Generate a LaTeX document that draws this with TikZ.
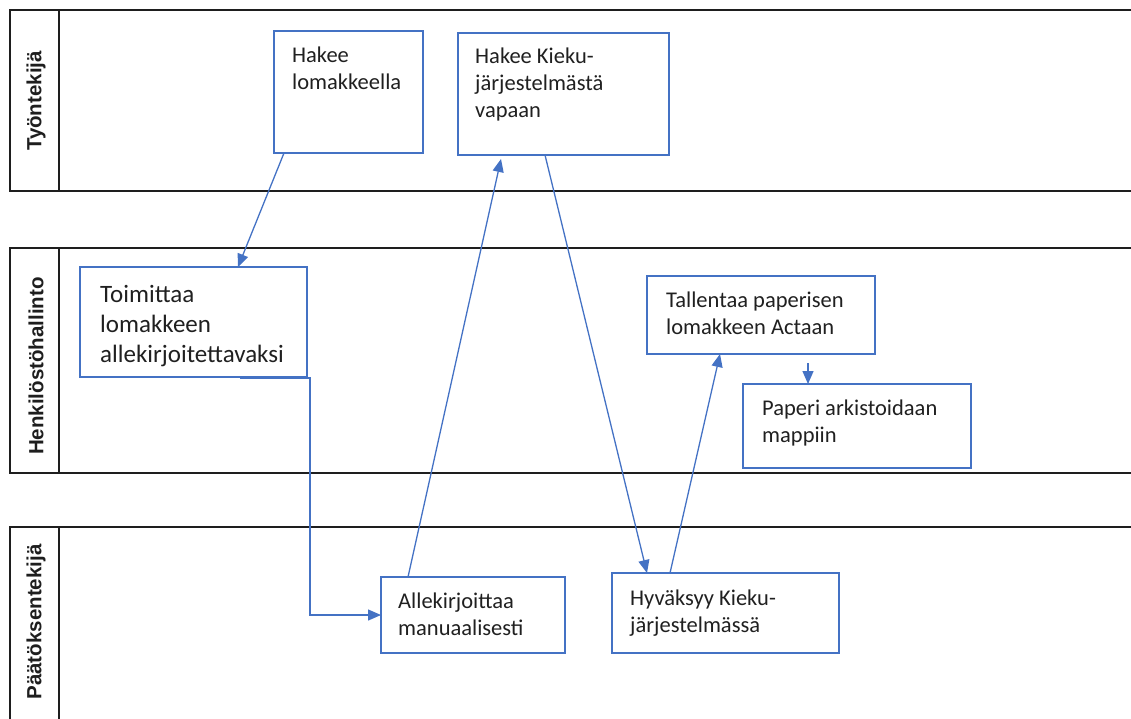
\documentclass[tikz,border=0pt]{standalone}
\usepackage{fontspec}
\setmainfont{Carlito}
\newfontfamily\lanefont{Liberation Sans}
\usetikzlibrary{arrows.meta}
\definecolor{flow}{HTML}{4472C4}
\definecolor{laneline}{HTML}{1E1E1E}
\definecolor{boxtext}{HTML}{202020}
\begin{document}
\begin{tikzpicture}[x=1pt,y=-1pt,
  lanebox/.style={draw=laneline, line width=1.6pt},
  lanelabel/.style={rotate=90, inner sep=0pt, text=laneline,
    font=\lanefont\bfseries\fontsize{20.5}{24}\selectfont},
  stepbox/.style={draw=flow, line width=1.3pt, fill=white, inner sep=0pt, outer sep=0pt},
  % multi-line text: the base anchor sits on the last line's baseline
  steptext/.style={anchor=base west, align=left, inner sep=0pt, text=boxtext,
    font=\fontsize{22.5}{27}\selectfont},
  bigtext/.style={steptext, font=\fontsize{25}{30}\selectfont},
  conn/.style={draw=flow, line width=1.3pt, -{Triangle[length=13pt,width=11pt]}}
]
\useasboundingbox (0,0) rectangle (1131,718);
\clip (0,0) rectangle (1131,718);

% swimlanes
\draw[lanebox] (10,10) rectangle (1145,191);
\draw[lanebox] (59,10) -- (59,191);
\node[lanelabel] (lab1) at (36,101) {Työntekijä};

\draw[lanebox] (10,248) rectangle (1145,473);
\draw[lanebox] (59,248) -- (59,473);
\node[lanelabel] (lab2) at (36,366) {Henkilöstöhallinto};

\draw[lanebox] (10,527) rectangle (1145,740);
\draw[lanebox] (59,527) -- (59,740);
\node[lanelabel] (lab3) at (36,622) {Päätöksentekijä};

% process steps
\node[stepbox, minimum width=149pt, minimum height=122pt] (b1) at (348.5,92) {};
\node[stepbox, minimum width=211pt, minimum height=122pt] (b2) at (563.5,94) {};
\node[stepbox, minimum width=227pt, minimum height=110pt] (b3) at (193.5,322) {};
\node[stepbox, minimum width=228pt, minimum height=78pt] (b4) at (761,315) {};
\node[stepbox, minimum width=228pt, minimum height=84pt] (b5) at (857,426) {};
\node[stepbox, minimum width=184pt, minimum height=76pt] (b6) at (473,615) {};
\node[stepbox, minimum width=227pt, minimum height=80pt] (b7) at (725.5,613) {};

\node[steptext] (t1) at (292,89) {Hakee\\lomakkeella};
\node[steptext] (t2) at (475,117) {Hakee Kieku-\\järjestelmästä\\vapaan};
\node[bigtext] (t3) at (100,362) {Toimittaa\\lomakkeen\\allekirjoitettavaksi};
\node[steptext] (t4) at (666,334) {Tallentaa paperisen\\lomakkeen Actaan};
\node[steptext] (t5) at (762,442) {Paperi arkistoidaan\\mappiin};
\node[steptext] (t6) at (398,635) {Allekirjoittaa\\manuaalisesti};
\node[steptext] (t7) at (630,632) {Hyväksyy Kieku-\\järjestelmässä};

% flow
\draw[conn] ([xshift=10pt]b1.south west) -- ([xshift=158pt]b3.north west);
\draw[conn] ([xshift=160pt,yshift=-1pt]b3.south west) -- ++(70,0) |- (b6.west);
\draw[conn] ([xshift=27pt]b6.north west) -- ([xshift=43pt,yshift=-4pt]b2.south west);
\draw[conn] ([xshift=87pt]b2.south west) -- ([xshift=35pt]b7.north west);
\draw[conn] ([xshift=58pt]b7.north west) -- ([xshift=73pt]b4.south west);
\draw[conn] ([xshift=161pt,yshift=-9pt]b4.south west) -- ([xshift=65pt]b5.north west);
\end{tikzpicture}
\end{document}
